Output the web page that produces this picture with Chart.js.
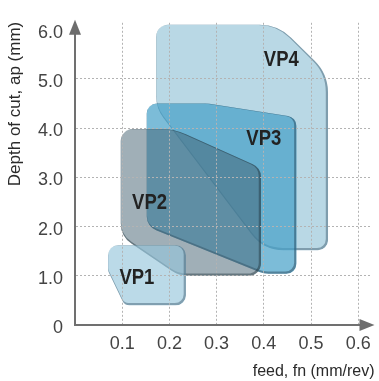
<!DOCTYPE html>
<html>
<head>
<meta charset="utf-8">
<script src="https://cdn.jsdelivr.net/npm/chart.js@4/dist/chart.umd.min.js"></script>
<style>
    html, body { margin: 0; padding: 0; background: #fff; }
    #wrap { width: 379px; height: 381px; }
</style>
</head>
<body>
<div id="wrap"><canvas id="vpChart" width="379" height="381"></canvas></div>
<script>
// DATA (feed in mm/rev, depth of cut in mm)
const seriesNames = ['VP1', 'VP2', 'VP3', 'VP4'];

const vp1Feed = [0.07, 0.235, 0.235, 0.105, 0.07];
const vp1Depth = [1.62, 1.62, 0.40, 0.40, 1.10];

const vp2Feed = [0.097, 0.21, 0.394, 0.394, 0.22, 0.097];
const vp2Depth = [3.98, 3.98, 3.19, 1.00, 1.00, 1.80];

const vp3Feed = [0.152, 0.28, 0.469, 0.469, 0.40, 0.152];
const vp3Depth = [4.50, 4.50, 4.22, 1.04, 1.04, 2.00];

const vp4Feed = [0.172, 0.43, 0.536, 0.536, 0.40, 0.172];
const vp4Depth = [6.10, 6.10, 5.10, 1.52, 1.52, 4.40];

const labelFeed = [0.131, 0.158, 0.40, 0.437];
const labelDepth = [0.98, 2.50, 3.80, 5.41];

const feedTicks = [0.1, 0.2, 0.3, 0.4, 0.5, 0.6];
const feedTickLabels = ['0.1', '0.2', '0.3', '0.4', '0.5', '0.6'];
const depthTicks = [0, 1, 2, 3, 4, 5, 6];
const depthTickLabels = ['0', '1.0', '2.0', '3.0', '4.0', '5.0', '6.0'];

const xTitle = 'feed, fn (mm/rev)';
const yTitle = 'Depth of cut, ap (mm)';

// HELPERS
const toPoints = (xs, ys) => xs.map((x, i) => ({ x: x, y: ys[i] }));

function traceRounded(ctx, pts, radii) {
    const n = pts.length;
    const a = pts[n - 1], b = pts[0];
    ctx.beginPath();
    ctx.moveTo((a.x + b.x) / 2, (a.y + b.y) / 2);
    for (let i = 0; i < n; i++) {
        const p = pts[i], q = pts[(i + 1) % n];
        ctx.arcTo(p.x, p.y, (p.x + q.x) / 2, (p.y + q.y) / 2, radii[i]);
    }
    ctx.closePath();
}

// draws the rounded regions from the points the library placed
const regionPlugin = {
    id: 'regions',
    beforeDatasetsDraw(chart) {
        const ctx = chart.ctx;
        for (let i = chart.data.datasets.length - 1; i >= 0; i--) {
            const ds = chart.data.datasets[i];
            const pts = chart.getDatasetMeta(i).data.map(p => ({ x: p.x, y: p.y }));
            ctx.save();
            traceRounded(ctx, pts, ds.cornerRadius);
            ctx.fillStyle = ds.backgroundColor;
            ctx.fill();
            ctx.clip();
            ctx.translate(-1, -1);
            traceRounded(ctx, pts, ds.cornerRadius);
            ctx.lineWidth = 2.5;
            ctx.strokeStyle = ds.borderColor;
            ctx.stroke();
            ctx.restore();
        }
    },
    afterDraw(chart) {
        const ctx = chart.ctx;
        const area = chart.chartArea;
        const xs = chart.scales.x, ys = chart.scales.y;

        // arrow heads
        ctx.save();
        ctx.fillStyle = '#6d6d6d';
        ctx.beginPath();
        ctx.moveTo(area.left, area.top - 3);
        ctx.lineTo(area.left - 6, area.top + 12);
        ctx.lineTo(area.left + 6, area.top + 12);
        ctx.closePath();
        ctx.fill();
        ctx.beginPath();
        ctx.moveTo(area.right + 4, area.bottom);
        ctx.lineTo(area.right - 11, area.bottom - 6);
        ctx.lineTo(area.right - 11, area.bottom + 6);
        ctx.closePath();
        ctx.fill();
        ctx.restore();

        // region names (narrowed bold)
        ctx.save();
        ctx.font = 'bold 22px "Liberation Sans", sans-serif';
        ctx.fillStyle = '#222';
        ctx.textAlign = 'center';
        ctx.textBaseline = 'middle';
        seriesNames.forEach((name, i) => {
            const px = xs.getPixelForValue(labelFeed[i]);
            const py = ys.getPixelForValue(labelDepth[i]);
            ctx.save();
            ctx.translate(px, py);
            ctx.scale(0.84, 1);
            ctx.fillText(name, 0, 1);
            ctx.restore();
        });
        ctx.restore();

        // axis titles
        ctx.save();
        ctx.fillStyle = '#2a2a2a';
        ctx.font = '16px "Liberation Sans", sans-serif';
        ctx.textAlign = 'right';
        ctx.textBaseline = 'middle';
        ctx.fillText(xTitle, area.right + 4, area.bottom + 47);
        ctx.translate(15, area.top - 1);
        ctx.rotate(-Math.PI / 2);
        ctx.font = '17px "Liberation Sans", sans-serif';
        ctx.fillText(yTitle, 0, 0);
        ctx.restore();
    }
};

const tickFont = { family: '"Liberation Sans", sans-serif', size: 18 };
const gridColor = c => (c.tick && (c.tick.value === 0 || c.tick.value === 6)) ? 'rgba(0,0,0,0)' : '#b3b3b3';

// CHART INITIALIZATION
const ctx = document.getElementById('vpChart').getContext('2d');
const vpChart = new Chart(ctx, {
    type: 'scatter',
    data: {
        datasets: [
            { label: 'VP1', data: toPoints(vp1Feed, vp1Depth), backgroundColor: 'rgba(150,198,220,0.65)', borderColor: 'rgba(40,70,90,0.4)', cornerRadius: [10, 10, 10, 8, 8] },
            { label: 'VP2', data: toPoints(vp2Feed, vp2Depth), backgroundColor: 'rgba(65,95,111,0.5)', borderColor: 'rgba(30,50,60,0.45)', cornerRadius: [12, 60, 14, 12, 30, 25] },
            { label: 'VP3', data: toPoints(vp3Feed, vp3Depth), backgroundColor: 'rgba(69,159,199,0.7)', borderColor: 'rgba(30,60,80,0.45)', cornerRadius: [10, 30, 10, 10, 25, 15] },
            { label: 'VP4', data: toPoints(vp4Feed, vp4Depth), backgroundColor: '#b9d8e5', borderColor: 'rgba(40,70,90,0.4)', cornerRadius: [12, 45, 45, 10, 40, 36] }
        ].map(d => Object.assign(d, { showLine: false, pointRadius: 0, pointHoverRadius: 0 }))
    },
    options: {
        responsive: false,
        animation: false,
        events: [],
        layout: { padding: { top: 13, right: 6, left: 0, bottom: 0 } },
        plugins: { legend: { display: false }, tooltip: { enabled: false } },
        scales: {
            x: {
                type: 'linear', min: 0, max: 0.626,
                afterBuildTicks: s => { s.ticks = feedTicks.map(v => ({ value: v })); },
                afterFit: s => { s.height = 56; },
                ticks: { callback: (v, i) => feedTickLabels[i], font: tickFont, color: '#444', padding: 8, maxRotation: 0, autoSkip: false },
                grid: { z: 1, color: gridColor, lineWidth: 1, drawTicks: false },
                border: { z: 1, color: '#707070', width: 2, dash: [2, 2] }
            },
            y: {
                type: 'linear', min: 0, max: 6.14,
                afterBuildTicks: s => { s.ticks = depthTicks.map(v => ({ value: v })); },
                afterFit: s => { s.width = 75; },
                ticks: { callback: (v, i) => depthTickLabels[i], font: tickFont, color: '#444', padding: 12, labelOffset: 3, autoSkip: false },
                grid: { z: 1, color: gridColor, lineWidth: 1, drawTicks: false },
                border: { z: 1, color: '#707070', width: 2, dash: [2, 2] }
            }
        }
    },
    plugins: [regionPlugin]
});
</script>
</body>
</html>
